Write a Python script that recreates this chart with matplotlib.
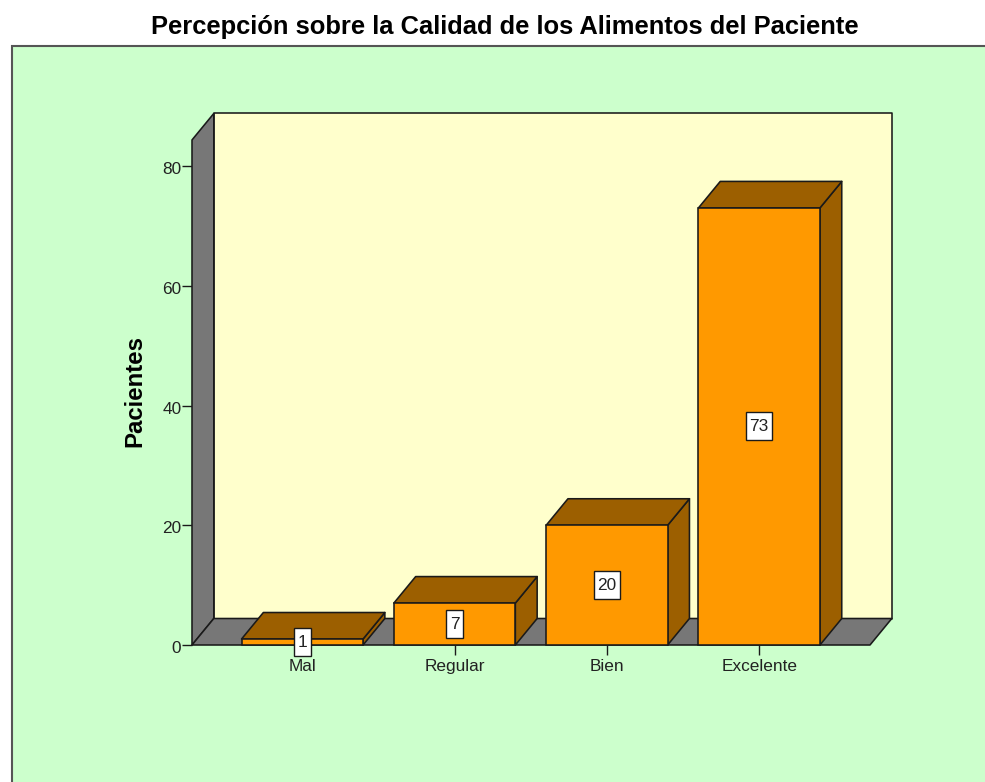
import matplotlib
matplotlib.use("Agg")
import matplotlib.pyplot as plt
from matplotlib.patches import Polygon, Rectangle
from matplotlib.transforms import ScaledTranslation

categories = ["Mal", "Regular", "Bien", "Excelente"]
values = [1, 7, 20, 73]
y_ticks = [0, 20, 40, 60, 80]

W, H = 985, 782
plt.rcParams['font.family'] = ['Liberation Sans', 'DejaVu Sans']
fig = plt.figure(figsize=(W / 100, H / 100), dpi=100, facecolor='white')

# green chart frame
fig.add_artist(Rectangle((11.5 / W, -0.01), 1.0, (H - 45.5) / H + 0.01, transform=fig.transFigure,
                         facecolor='#CCFFCC', edgecolor='#555555', linewidth=1.5, zorder=-1))

x0, x1, ybot, ytop = 192, 870, 645, 166
ax = fig.add_axes([x0 / W, (H - ybot) / H, (x1 - x0) / W, (ybot - ytop) / H])
step = 152.3
unit = (ybot - ytop) / 80
xlim = ((x0 - 302.3) / step, (x1 - 302.3) / step)
ax.set_xlim(*xlim)
ax.set_ylim(0, 80)
ax.patch.set_visible(False)
for s in ax.spines.values():
    s.set_visible(False)

dx = 21.8 / step
dy = 26.5 / unit
wall_top = 84.35
edge = '#1a1a1a'
lw = 1.15
gray = '#777777'
cream = '#FFFFCC'
orange = '#FF9900'
brown = '#9C5F00'


def poly(pts, fc, z):
    ax.add_patch(Polygon(pts, closed=True, facecolor=fc, edgecolor=edge, linewidth=lw,
                         joinstyle='round', clip_on=False, zorder=z))


L, R = xlim
poly([(L + dx, dy), (R + dx, dy), (R + dx, wall_top + dy), (L + dx, wall_top + dy)], cream, 1)
poly([(L, 0), (L + dx, dy), (L + dx, wall_top + dy), (L, wall_top)], gray, 1.1)
poly([(L, 0), (R, 0), (R + dx, dy), (L + dx, dy)], gray, 1.1)

bw = 121.5 / step
for i, v in enumerate(values):
    a, b = i - bw / 2, i + bw / 2
    z = 2 + i * 0.1
    poly([(b, 0), (b + dx, dy), (b + dx, v + dy), (b, v)], brown, z)
    poly([(a, v), (b, v), (b + dx, v + dy), (a + dx, v + dy)], brown, z)
    ax.bar(i, v, width=bw, bottom=0, color=orange, edgecolor=edge, linewidth=lw, zorder=z + 0.01, clip_on=False)

for i, v in enumerate(values):
    s = str(v)
    box_w = (9 + 8.5 * len(s)) / step
    box_h = 28 / unit
    ax.add_patch(Rectangle((i - box_w / 2, v / 2 - box_h / 2), box_w, box_h, facecolor='white',
                           edgecolor=edge, linewidth=1.0, clip_on=False, zorder=5))
    ax.text(i, v / 2, s, ha='center', va='center', fontsize=12.4, color='#222222', zorder=6)

ax.set_xticks(range(len(categories)), categories)
ax.set_yticks(y_ticks)
ax.tick_params(axis='both', length=7.2, width=1.0, color=edge, labelcolor='#222222', labelsize=12.4, pad=3.2)
ax.tick_params(axis='y', pad=0.5)
ax.set_axisbelow(True)
shift = ScaledTranslation(0, -2 / 100, fig.dpi_scale_trans)
for lab in ax.get_yticklabels():
    lab.set_transform(lab.get_transform() + shift)

fig.text(505 / W, (H - 27) / H, "Percepción sobre la Calidad de los Alimentos del Paciente",
         ha='center', va='center', fontsize=18.4, fontweight='bold', color='black')
fig.text(135 / W, (H - 391) / H, "Pacientes", rotation=90, ha='center', va='center',
         fontsize=17.3, fontweight='bold', color='black')

fig.savefig('out.png', dpi=100, facecolor='white')
